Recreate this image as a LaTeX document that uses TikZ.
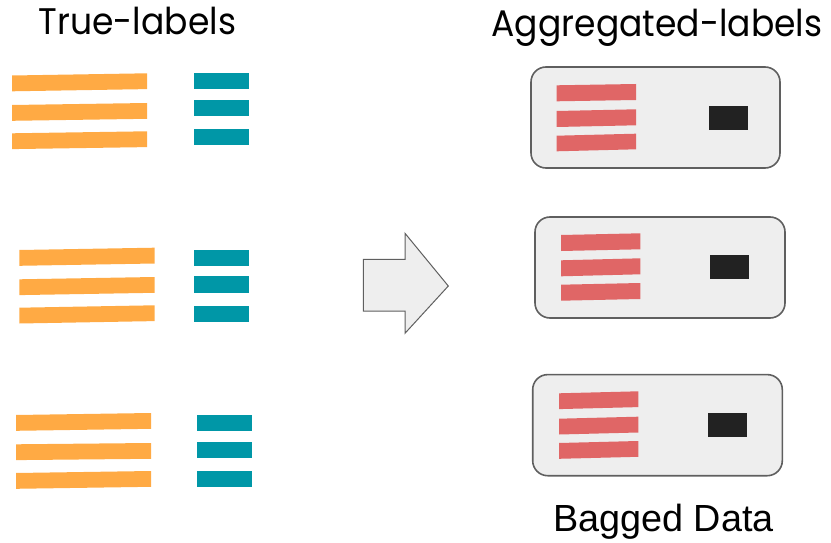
\documentclass[tikz,border=0pt]{standalone}
\usepackage{fontspec}
\setmainfont{Liberation Sans}
\newfontfamily\titlefont{Poppins}
\definecolor{orangebar}{HTML}{FFAA44}
\definecolor{tealbar}{HTML}{0097A7}
\definecolor{redbar}{HTML}{E06666}
\definecolor{darkrect}{HTML}{222222}
\definecolor{boxfill}{HTML}{EEEEEE}
\definecolor{boxline}{HTML}{5F5F5F}
\tikzset{
  orangestyle/.style={fill=orangebar},
  tealstyle/.style={fill=tealbar},
  redstyle/.style={fill=redbar},
  bagbox/.style={fill=boxfill, draw=boxline, line width=1.6pt, rounded corners=15pt},
  blackrect/.style={fill=darkrect},
  bigarrow/.style={fill=boxfill, draw=boxline, line width=1pt, line join=miter},
  titletext/.style={anchor=base west, inner sep=0pt, font=\titlefont\fontsize{37}{40}\selectfont},
  bottomtext/.style={anchor=base west, inner sep=0pt, font=\fontsize{37.8}{40}\selectfont}
}
\newcommand{\narrowtext}[1]{\scalebox{0.934}[1]{#1}}
% tilted bar: #1 style, #2 x left, #3 x right, #4 y top at left, #5 y top at right, #6 height
\newcommand{\tiltbar}[6]{\fill[#1] (#2,#4) -- (#3,#5) -- (#3,#5+#6) -- (#2,#4+#6) -- cycle;}
\begin{document}
\begin{tikzpicture}[x=1pt,y=-1pt]
\useasboundingbox (0,0) rectangle (831,543);
% titles
\node[titletext] (t1) at (38.5,35) {\narrowtext{True-labels}};
\node[titletext] (t2) at (491.5,36.5) {\narrowtext{Aggregated-labels}};
\node[bottomtext] (t3) at (553,531.5) {Bagged Data};
% group 1
\tiltbar{orangestyle}{12}{147}{75.5}{73.3}{15.8}
\tiltbar{orangestyle}{12}{147}{105}{103}{15.8}
\tiltbar{orangestyle}{12}{147}{133.3}{131.3}{15.8}
\fill[tealstyle] (194,73) rectangle (249,89);
\fill[tealstyle] (194,100) rectangle (249,115.7);
\fill[tealstyle] (194,129) rectangle (249,145);
% group 2
\tiltbar{orangestyle}{19.3}{154.7}{250}{247.7}{15.8}
\tiltbar{orangestyle}{19.3}{154.7}{279.3}{277}{15.8}
\tiltbar{orangestyle}{19.3}{154.7}{307.7}{305.3}{15.8}
\fill[tealstyle] (194,249.7) rectangle (249.3,265.7);
\fill[tealstyle] (194,276.3) rectangle (249.3,292.7);
\fill[tealstyle] (194,306) rectangle (249.3,322);
% group 3
\tiltbar{orangestyle}{16}{151}{415}{413}{15.8}
\tiltbar{orangestyle}{16}{151}{444.3}{443}{15.8}
\tiltbar{orangestyle}{16}{151}{473}{471}{15.8}
\fill[tealstyle] (196.7,415.3) rectangle (251.7,431);
\fill[tealstyle] (196.7,442.3) rectangle (251.7,458);
\fill[tealstyle] (196.7,471.3) rectangle (251.7,487);
% arrow
\draw[bigarrow] (363.3,259.3) -- (405,259.3) -- (405,233.3) -- (448.3,286) -- (405,333.3) -- (405,311) -- (363.3,311) -- cycle;
% box 1
\draw[bagbox] (531,67) rectangle (780,168);
\tiltbar{redstyle}{556.7}{636}{85.3}{84}{16}
\tiltbar{redstyle}{556.7}{636}{111}{109.3}{16}
\tiltbar{redstyle}{556.7}{636}{135.7}{133.7}{15.6}
\fill[blackrect] (709,106) rectangle (748.3,130);
% box 2
\draw[bagbox] (535,217) rectangle (785,318);
\tiltbar{redstyle}{561}{640.3}{235}{233.3}{16}
\tiltbar{redstyle}{561}{640.3}{260.3}{258.3}{16}
\tiltbar{redstyle}{561}{640.3}{284.7}{283}{16}
\fill[blackrect] (710,255) rectangle (749.3,278.7);
% box 3
\draw[bagbox] (532.7,374.6) rectangle (782.3,475.7);
\tiltbar{redstyle}{559}{638.3}{393.3}{391.3}{15.8}
\tiltbar{redstyle}{559}{638.3}{418.7}{416.7}{15.8}
\tiltbar{redstyle}{559}{638.3}{443}{441}{15.8}
\fill[blackrect] (708,413) rectangle (747.3,436.7);
\end{tikzpicture}
\end{document}
